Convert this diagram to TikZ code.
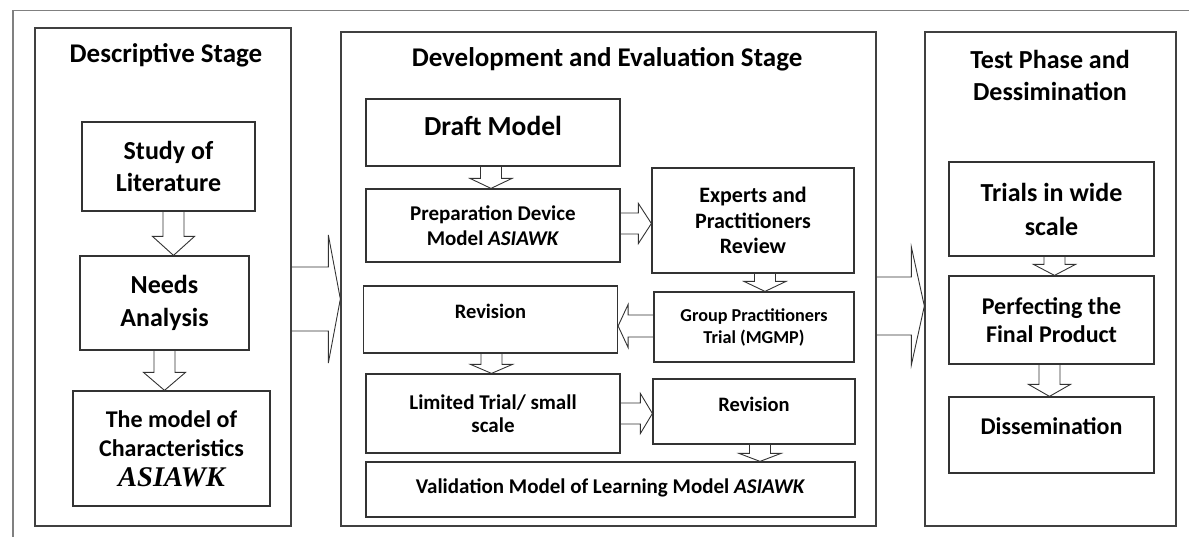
\documentclass[tikz,border=0pt]{standalone}
\usepackage{fontspec}
\setmainfont{Carlito}
\newfontfamily\timesf{Liberation Serif}
\usetikzlibrary{calc,positioning}

\tikzset{
  box/.style={draw=black!80, line width=1.2pt, align=center, inner sep=0pt},
  panel/.style={draw=black!75, line width=1.3pt, inner sep=0pt},
  flow/.style={draw=black!80, line width=0.9pt, line join=miter},
  ttl/.style={anchor=base, align=center, font=\fontsize{27}{32}\selectfont\bfseries},
  frame/.style={draw=black!50, line width=1.3pt},
}

% block arrows between named boxes
\newcommand{\flowdown}[4][0]{%
  \coordinate (fs) at ($(#2.south)+(#1,0)$);
  \coordinate (ft) at (fs |- #3.north);
  \draw[flow] ($(fs)+(-10.5,0)$) -- ($(ft)+(-10.5,-#4)$) -- ($(ft)+(-21,-#4)$) -- (ft)
    -- ($(ft)+(21,-#4)$) -- ($(ft)+(10.5,-#4)$) -- ($(fs)+(10.5,0)$);}
\newcommand{\flowright}[6][0]{%
  \coordinate (fs) at ($(#2.east)+(0,#1)$);
  \coordinate (ft) at (fs -| #3.west);
  \draw[flow] ($(fs)+(0,-#5)$) -- ($(ft)+(-#4,-#5)$) -- ($(ft)+(-#4,-#6)$) -- (ft)
    -- ($(ft)+(-#4,#6)$) -- ($(ft)+(-#4,#5)$) -- ($(fs)+(0,#5)$);}
\newcommand{\flowleft}[6][0]{%
  \coordinate (fs) at ($(#2.west)+(0,#1)$);
  \coordinate (ft) at (fs -| #3.east);
  \draw[flow] ($(fs)+(0,-#5)$) -- ($(ft)+(#4,-#5)$) -- ($(ft)+(#4,-#6)$) -- (ft)
    -- ($(ft)+(#4,#6)$) -- ($(ft)+(#4,#5)$) -- ($(fs)+(0,#5)$);}

\begin{document}
\begin{tikzpicture}[x=1pt, y=-1pt]
\useasboundingbox (0,0) rectangle (1189,537);
\draw[frame] (13,537) -- (13,10.5) -- (1189,10.5);

% stages
\node[panel, minimum width=256, minimum height=498] (lpanel) at (163,277) {};
\node[panel, minimum width=535, minimum height=494] (mpanel) at (608.5,279) {};
\node[panel, minimum width=251, minimum height=494] (rpanel) at (1050.5,279) {};
\node[ttl] (ltitle) at (166,63) {Descriptive Stage};
\node[ttl] (mtitle) at (607,67) {Development and Evaluation Stage};
\node[ttl, anchor=center, font=\fontsize{26}{32}\selectfont\bfseries] (rtitle) at (1050,75) {Test Phase and\\Dessimination};

% descriptive stage
\node[box, minimum width=173, minimum height=89, font=\fontsize{26}{32}\selectfont\bfseries] (study) at (168.5,166.5) {Study of\\Literature};
\node[box, minimum width=169, minimum height=94, font=\fontsize{26}{33}\selectfont\bfseries] (needs) at (164.5,303) {Needs\\Analysis};
\node[box, minimum width=197, minimum height=115, font=\fontsize{24}{29.5}\selectfont\bfseries] (charac) at (171.5,448.5) {The model of\\Characteristics\\{\timesf\itshape\fontsize{28.5}{30}\selectfont ASIAWK}};

% development and evaluation stage
\node[box, minimum width=254, minimum height=67, text depth=12.3, font=\fontsize{27.5}{30}\selectfont\bfseries] (draft) at (493,132.5) {Draft Model};
\node[box, minimum width=254, minimum height=73, font=\fontsize{21}{25}\selectfont\bfseries] (prep) at (493,225.5) {Preparation Device\\Model \textit{ASIAWK}};
\node[box, minimum width=202, minimum height=105, font=\fontsize{22}{25.5}\selectfont\bfseries] (expert) at (753,220.5) {Experts and\\Practitioners\\Review};
\node[box, minimum width=200, minimum height=70, font=\fontsize{18.2}{22}\selectfont\bfseries] (group) at (754,327) {Group Practitioners\\Trial (MGMP)};
\node[box, minimum width=254, minimum height=67, text depth=17, font=\fontsize{20.5}{26}\selectfont\bfseries] (revA) at (490.5,319.5) {Revision};
\node[box, minimum width=254, minimum height=79, font=\fontsize{21}{23}\selectfont\bfseries] (limited) at (493,413.5) {Limited Trial/ small\\scale};
\node[box, minimum width=202, minimum height=65, text depth=15, font=\fontsize{20.5}{26}\selectfont\bfseries] (revB) at (754,411.5) {Revision};
\node[box, minimum width=489, minimum height=55, text depth=7.7, font=\fontsize{21}{26}\selectfont\bfseries] (valid) at (610.5,489.5) {Validation Model of Learning Model \textit{ASIAWK}};

% test phase
\node[box, minimum width=205, minimum height=94, font=\fontsize{26}{34}\selectfont\bfseries] (trials) at (1051.5,209) {Trials in wide\\scale};
\node[box, minimum width=205, minimum height=88, font=\fontsize{24}{28}\selectfont\bfseries] (perfect) at (1051.5,320) {Perfecting the\\Final Product};
\node[box, minimum width=205, minimum height=76, text depth=18, font=\fontsize{24}{28}\selectfont\bfseries] (dissem) at (1051.5,435) {Dissemination};

% arrows
\flowdown[5]{study}{needs}{19}
\flowdown{needs}{charac}{18}
\flowdown[-2]{draft}{prep}{10}
\flowright[-2]{prep}{expert}{13}{10.5}{20}
\flowdown[12]{expert}{group}{10}
\flowleft[-1]{group}{revA}{10}{11}{21.5}
\flowdown[1]{revA}{limited}{9}
\flowright{limited}{revB}{12}{10.5}{20}
\flowdown[6]{revB}{valid}{8}
\flowdown[3]{trials}{perfect}{11}
\flowdown[-2]{perfect}{dissem}{12}
\flowright[22]{lpanel}{mpanel}{12}{32}{64}
\flowright[27]{mpanel}{rpanel}{13}{29}{59}
\end{tikzpicture}
\end{document}
